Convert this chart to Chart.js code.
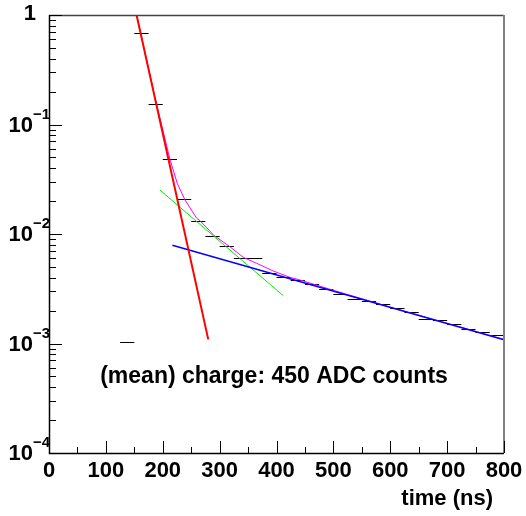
<!DOCTYPE html>
<html>
<head>
<meta charset="utf-8">
<script src="https://cdn.jsdelivr.net/npm/chart.js@4/dist/chart.umd.min.js"></script>
<style>
  html, body { margin: 0; padding: 0; background: #fff; }
  #wrap { width: 526px; height: 516px; }
</style>
</head>
<body>
<div id="wrap"><canvas id="chart" width="526" height="516"></canvas></div>
<script>
// histogram bins (25 ns wide), bin centres in ns
const binWidth = 25;
const binCenters = [12.5, 37.5, 62.5, 87.5, 112.5, 137.5, 162.5, 187.5, 212.5, 237.5,
  262.5, 287.5, 312.5, 337.5, 362.5, 387.5, 412.5, 437.5, 462.5, 487.5,
  512.5, 537.5, 562.5, 587.5, 612.5, 637.5, 662.5, 687.5, 712.5, 737.5,
  762.5, 787.5];
const binValues = [1e-4, 1e-4, 1e-4, 1e-4, 1e-4, 1.03e-3, 0.68, 0.153, 0.048, 0.021,
  0.0132, 0.0096, 0.0078, 0.0061, 0.0060, 0.00437, 0.00407, 0.0038, 0.00352, 0.00316,
  0.00283, 0.00257, 0.00243, 0.00228, 0.00212, 0.00193, 0.00166, 0.00163, 0.00151, 0.00135,
  0.00127, 0.00119];

// fit components (straight lines on the log axis -> two end points each)
const fastFit = [{ x: 150, y: 1.24 }, { x: 280, y: 1.09e-3 }];
const midFit = [{ x: 195, y: 0.0252 }, { x: 412, y: 0.00273 }];
const slowFit = [{ x: 217, y: 0.0079 }, { x: 800, y: 0.00108 }];
// total fit
const totalX = [150, 187.6, 212.7, 225.6, 239, 259.7, 265.5, 290, 318, 341.6, 365.2, 394.4, 423.7, 441.3, 500, 600, 700, 800];
const totalY = [1.24, 0.165, 0.048, 0.029, 0.0205, 0.0139, 0.01324, 0.0097, 0.00766, 0.00612, 0.0054, 0.00459, 0.00402, 0.0038, 0.00306, 0.00215, 0.00153, 0.00109];

const xTicks = [0, 100, 200, 300, 400, 500, 600, 700, 800];
const yDecades = [-4, -3, -2, -1, 0];
const annotation = '(mean) charge: 450 ADC counts';
const xTitle = 'time (ns)';

const FONT = '"Liberation Sans", Arial, Helvetica, sans-serif';

const histPoints = binCenters.map((x, i) => ({ x, y: binValues[i] }));
const totalFit = totalX.map((x, i) => ({ x, y: totalY[i] }));

const rootStyle = {
  id: 'rootStyle',
  beforeDatasetsDraw(chart) {
    const { ctx, scales: { x, y } } = chart;
    ctx.save();
    ctx.strokeStyle = '#000';
    ctx.lineWidth = 1;
    histPoints.forEach((p) => {
      const py = Math.round(y.getPixelForValue(p.y)) + 0.5;
      ctx.beginPath();
      ctx.moveTo(x.getPixelForValue(p.x - binWidth / 2), py);
      ctx.lineTo(x.getPixelForValue(p.x + binWidth / 2), py);
      ctx.stroke();
    });
    ctx.restore();
  },
  afterDraw(chart) {
    const { ctx, chartArea: a, scales: { x, y } } = chart;
    ctx.save();
    // frame
    ctx.lineWidth = 1.5;
    ctx.strokeStyle = '#444';
    ctx.beginPath();
    ctx.moveTo(a.left, a.top + 0.5);
    ctx.lineTo(a.right, a.top + 0.5);
    ctx.stroke();
    ctx.strokeStyle = '#808080';
    ctx.lineWidth = 2;
    ctx.beginPath();
    ctx.moveTo(a.right, a.top);
    ctx.lineTo(a.right, a.bottom);
    ctx.stroke();
    ctx.strokeStyle = '#000';
    ctx.lineWidth = 1.5;
    ctx.beginPath();
    ctx.moveTo(a.left + 0.5, a.top);
    ctx.lineTo(a.left + 0.5, a.bottom + 0.5);
    ctx.lineTo(a.right, a.bottom + 0.5);
    ctx.stroke();

    // x ticks (inward)
    ctx.lineWidth = 1;
    for (let v = 0; v <= 800; v += 50) {
      const px = Math.round(x.getPixelForValue(v)) + 0.5;
      const len = v % 100 === 0 ? 12 : 6;
      ctx.beginPath();
      ctx.moveTo(px, a.bottom);
      ctx.lineTo(px, a.bottom - len);
      ctx.stroke();
    }
    // y ticks (inward)
    yDecades.forEach((d) => {
      const py = Math.round(y.getPixelForValue(Math.pow(10, d))) + 0.5;
      ctx.beginPath();
      ctx.moveTo(a.left, py);
      ctx.lineTo(a.left + 13, py);
      ctx.stroke();
      if (d < 0) {
        for (let m = 2; m <= 9; m++) {
          const my = Math.round(y.getPixelForValue(m * Math.pow(10, d))) + 0.5;
          ctx.beginPath();
          ctx.moveTo(a.left, my);
          ctx.lineTo(a.left + 7, my);
          ctx.stroke();
        }
      }
    });

    // labels
    ctx.fillStyle = '#000';
    ctx.textBaseline = 'middle';
    ctx.font = 'bold 22px ' + FONT;
    ctx.textAlign = 'center';
    xTicks.forEach((v) => {
      ctx.fillText(String(v), x.getPixelForValue(v), a.bottom + 18);
    });
    yDecades.forEach((d) => {
      const py = y.getPixelForValue(Math.pow(10, d));
      if (d === 0) {
        ctx.font = 'bold 22px ' + FONT;
        ctx.textAlign = 'right';
        ctx.fillText('1', a.left - 13, py - 1);
        return;
      }
      ctx.font = 'bold 22px ' + FONT;
      ctx.textAlign = 'right';
      ctx.fillText('10', a.left - 16, py + 1);
      ctx.font = 'bold 15px ' + FONT;
      ctx.textAlign = 'left';
      ctx.fillText('\u2212' + Math.abs(d), a.left - 16, py - 10);
    });

    ctx.font = 'bold 22px ' + FONT;
    ctx.textAlign = 'right';
    ctx.fillText(xTitle, a.right - 11, a.bottom + 46);

    ctx.font = 'bold 23px ' + FONT;
    ctx.textAlign = 'left';
    ctx.fillText(annotation, x.getPixelForValue(90), y.getPixelForValue(5e-4));
    ctx.restore();
  }
};

const lineSet = (label, data, color, width, order) => ({
  label, data, order,
  showLine: true,
  borderColor: color,
  borderWidth: width,
  pointRadius: 0,
  fill: false,
  tension: 0
});

new Chart(document.getElementById('chart'), {
  type: 'scatter',
  data: {
    datasets: [
      { label: 'data', data: histPoints, pointRadius: 0, showLine: false, order: 9 },
      lineSet('total', totalFit, '#ff00ff', 1, 4),
      lineSet('mid', midFit, '#00ee00', 1, 3),
      lineSet('slow', slowFit, '#0000ff', 1.5, 2),
      lineSet('fast', fastFit, '#ff0000', 2, 1)
    ]
  },
  options: {
    responsive: false,
    animation: false,
    devicePixelRatio: 1,
    layout: { padding: { left: 49, top: 15, right: 22, bottom: 63 } },
    plugins: { legend: { display: false }, tooltip: { enabled: false } },
    scales: {
      x: {
        type: 'linear', min: 0, max: 800,
        ticks: { display: false },
        grid: { display: false, drawTicks: false },
        border: { display: false },
        title: { display: false }
      },
      y: {
        type: 'logarithmic', min: 1e-4, max: 1,
        ticks: { display: false },
        grid: { display: false, drawTicks: false },
        border: { display: false },
        title: { display: false }
      }
    }
  },
  plugins: [rootStyle]
});
</script>
</body>
</html>
